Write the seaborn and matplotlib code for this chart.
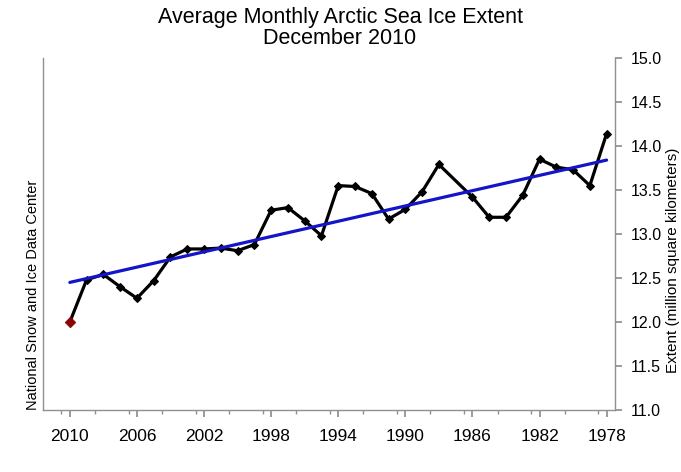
import numpy as np
import pandas as pd
import matplotlib
matplotlib.use("Agg")
import matplotlib.pyplot as plt
import seaborn as sns

years = list(range(1978, 2011))
extent = [14.14, 13.55, 13.73, 13.76, 13.85, 13.44, 13.19, 13.19, 13.42, np.nan,
          13.79, 13.48, 13.28, 13.17, 13.46, 13.54, 13.55, 12.98, 13.15, 13.30,
          13.27, 12.88, 12.81, 12.84, 12.83, 12.83, 12.74, 12.47, 12.27, 12.40,
          12.54, 12.48, 12.00]
trend_years = [1978, 2010]
trend_values = [13.84, 12.45]
year_ticks = [2010, 2006, 2002, 1998, 1994, 1990, 1986, 1982, 1978]
y_ticks = [11.0, 11.5, 12.0, 12.5, 13.0, 13.5, 14.0, 14.5, 15.0]

title = "Average Monthly Arctic Sea Ice Extent\nDecember 2010"
ylabel = "Extent (million square kilometers)"
source = "National Snow and Ice Data Center"

sns.set_theme(style="white")
plt.rcParams["font.family"] = ["Liberation Sans", "DejaVu Sans"]
plt.rcParams["text.color"] = "black"
plt.rcParams["xtick.color"] = "black"
plt.rcParams["ytick.color"] = "black"

df = pd.DataFrame({"year": years, "extent": extent}).dropna()
trend = pd.DataFrame({"year": trend_years, "extent": trend_values})

fig = plt.figure(figsize=(6.81, 4.72), dpi=100)
ax = fig.add_axes([43/681, 1-410/472, (615-43)/681, (410-58)/472])

sns.lineplot(data=df, x="year", y="extent", ax=ax, color="black", lw=2.3,
             marker="D", markersize=4, markeredgecolor="black", zorder=2)
sns.lineplot(data=trend, x="year", y="extent", ax=ax, color="#1414c8", lw=2.3, zorder=3)
last = df[df["year"] == 2010]
sns.scatterplot(data=last, x="year", y="extent", ax=ax, color="#8b0000", marker="D",
                s=30, edgecolor="#8b0000", zorder=4)

ax.set_xlim(2011.6, 1977.5)
ax.set_ylim(11.0, 15.0)
ax.set_xticks(year_ticks)
ax.set_xticklabels([str(y) for y in year_ticks], fontsize=12.5)
ax.set_xticks([y + 0.5 for y in range(1978, 2011, 2)], minor=True)
ax.yaxis.tick_right()
ax.set_yticks(y_ticks)
ax.set_yticklabels([f"{v:.1f}" for v in y_ticks], fontsize=11.5)
ax.tick_params(axis="y", which="major", direction="out", length=5, color="#909090", pad=6, right=True)
ax.tick_params(axis="x", which="major", direction="out", length=5, color="#909090", pad=9, bottom=True)
ax.tick_params(axis="x", which="minor", direction="out", length=3, color="#909090", bottom=True)
ax.set_xlabel("")
ax.set_ylabel("")
for side in ["left", "right", "bottom"]:
    ax.spines[side].set_visible(True)
    ax.spines[side].set_color("#909090")
    ax.spines[side].set_linewidth(1.0)
ax.spines["top"].set_visible(False)

fig.text(340/681, 1-28/472, title, ha="center", va="center", fontsize=15.5, linespacing=1.0)
fig.text(673/681, 1-260/472, ylabel, rotation=90, ha="center", va="center", fontsize=11)
fig.text(33/681, 1-295/472, source, rotation=90, ha="center", va="center", fontsize=10.5)

fig.savefig("out.png", dpi=100)
